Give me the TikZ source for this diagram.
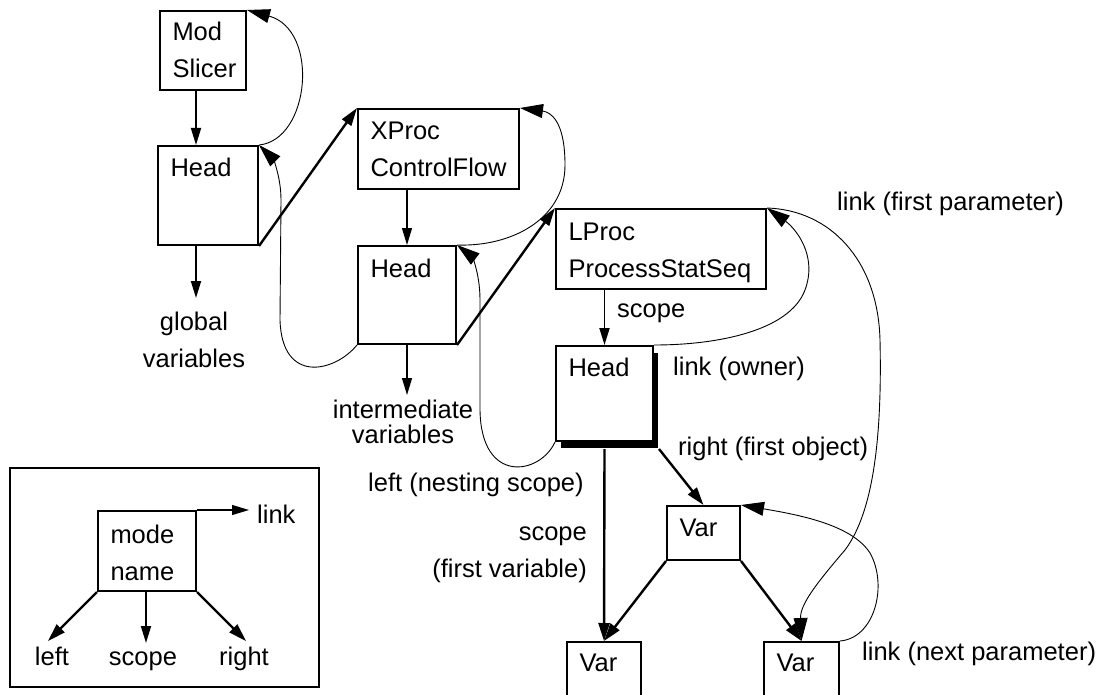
\documentclass[tikz,border=0pt]{standalone}
\usepackage{fontspec}
\setmainfont{Liberation Sans}
\usetikzlibrary{arrows.meta,shadows}
\newcommand\myf{\fontsize{25.5pt}{37pt}\selectfont}
\newcommand\twoln[3]{{\fontsize{25.5pt}{#1}\selectfont\begin{tabular}[t]{@{}#2@{}}#3\end{tabular}}}
\begin{document}
\begin{tikzpicture}[x=1pt,y=-1pt,
  box/.style={draw, line width=2pt, fill=white, inner xsep=12.5pt, inner ysep=0pt,
              anchor=north west, font=\myf, align=left},
  txt/.style={inner sep=0pt, font=\myf},
  arT/.style={line width=2.4pt, -{Triangle[length=18pt,width=11pt]}},
  arM/.style={line width=1.8pt, -{Triangle[length=17pt,width=10pt]}},
  arS/.style={line width=1.2pt, -{Triangle[length=17pt,width=10pt]}},
  crv/.style={line width=0.9pt, -{Triangle[length=23pt,width=14pt]}}]
\useasboundingbox (0,0) rectangle (1105,695);

% boxes
\node[box, text width=61pt, text height=30pt, text depth=49pt] (ms) at (159,10) {\twoln{37pt}{l}{Mod\\Slicer}};
\node[box, text width=75pt, text height=31pt, text depth=68pt] (h1) at (157,145) {Head};
\node[box, text width=136pt, text height=31pt, text depth=49pt] (xp) at (357,108) {\twoln{37pt}{l}{XProc\\ControlFlow}};
\node[box, text width=73pt, text height=31pt, text depth=67pt] (h2) at (357,245) {Head};
\node[box, text width=185pt, text height=31pt, text depth=49pt] (lp) at (555,208) {\twoln{37pt}{l}{LProc\\ProcessStatSeq}};
\node[box, text width=72pt, text height=30pt, text depth=65pt,
      drop shadow={shadow xshift=5pt, shadow yshift=-7pt, opacity=1, fill=black}] (h3) at (555,345) {Head};
\node[box, text width=48pt, text height=30pt, text depth=24pt] (vt) at (666,505) {Var};
\begin{scope}
\clip (0,0) rectangle (1105,695);
\node[box, text width=49pt, text height=29pt, text depth=51pt] (vbl) at (566,641) {Var};
\node[box, text width=50pt, text height=29pt, text depth=51pt] (vbr) at (763,641) {Var};
\end{scope}

% straight connectors
\coordinate (msb) at ([xshift=-7pt]ms.south);
\draw[arM] (msb) -- (msb |- h1.north);
\coordinate (h1b) at ([xshift=-12pt]h1.south);
\coordinate (gvt) at ([yshift=-52pt]h1b);
\draw[arM] (h1b) -- (gvt);
\draw[arT] (h1.south east) -- (xp.north west);
\draw[arS] (h2.north |- xp.south) -- (h2.north);
\coordinate (ivt) at ([yshift=-50pt]h2.south);
\draw[arS] (h2.south) -- (ivt);
\draw[arT] (h2.south east) -- (lp.north west);
\draw[arM] (h3.north |- lp.south) -- (h3.north);
\coordinate (h3s) at ([yshift=-7pt]h3.south);
\coordinate (h3se) at ([xshift=5pt,yshift=-7pt]h3.south east);
\draw[arT] (h3s) -- (vbl.north);
\draw[arT] (h3se) -- (vt.north);
\draw[arT] (vt.south west) -- (vbl.north);
\draw[arT] (vt.south east) -- (vbr.north);

% curved links
\draw[crv] (h1.north east) .. controls (310,140) and (320,30) .. (ms.north east);
\draw[crv] (h2.south west) .. controls (335,372) and (282,385) .. (280,320)
  -- (281,200) .. controls (281,175) and (272,158) .. (h1.north east);
\draw[crv] (h2.north east) .. controls (510,247) and (565,220) .. (565,165)
  .. controls (565,120) and (550,112) .. (xp.north east);
\draw[crv] (h3.south west) .. controls (540,475) and (481,485) .. (480,410)
  -- (480,300) .. controls (480,270) and (470,255) .. (h2.north east);
\draw[crv] (h3.north east) .. controls (720,345) and (790,330) .. (805,290)
  .. controls (818,255) and (795,228) .. (lp.north east);
\draw[crv] (lp.north east) .. controls (830,210) and (878,260) .. (880,340)
  .. controls (882,430) and (875,510) .. (845,550)
  .. controls (815,585) and (800,605) .. (vbr.north);
\draw[crv] (vbr.north east) .. controls (875,638) and (888,585) .. (870,553)
  .. controls (852,525) and (800,515) .. (vt.north east);

% labels
\node[txt, anchor=base] (gv) at (194,330) {\twoln{37pt}{c}{global\\variables}};
\node[txt, anchor=base] (iv) at (403,418) {\twoln{25pt}{c}{intermediate\\variables}};
\node[txt, anchor=base west] (l1) at (837,211) {link (first parameter)};
\node[txt, anchor=base west] (l2) at (617,317) {scope};
\node[txt, anchor=base west] (l3) at (673,375) {link (owner)};
\node[txt, anchor=base west] (l4) at (678,455) {right (first object)};
\node[txt, anchor=base west] (l5) at (368,491) {left (nesting scope)};
\node[txt, anchor=base east] (l6) at (587,540) {\twoln{37pt}{r}{scope\\(first variable)}};
\node[txt, anchor=base west] (l7) at (862,660) {link (next parameter)};

% legend
\node[draw, line width=1.6pt, minimum width=309pt, minimum height=219pt, inner sep=0pt,
      anchor=north west] (lg) at (9,467) {};
\node[box, text width=73pt, text height=32pt, text depth=48pt] (ln) at (97,510) {\twoln{37pt}{l}{mode\\name}};
\coordinate (lkx) at ([xshift=52pt]ln.north east);
\draw[arS] (ln.north east) -- (lkx);
\node[txt, anchor=base west] (lkt) at (257,523) {link};
\coordinate (lfx) at (48,641);
\coordinate (lsx) at ([xshift=-1pt,yshift=-51pt]ln.south);
\coordinate (lrx) at (246,641);
\draw[arT] (ln.south west) -- (lfx);
\draw[arM] ([xshift=-1pt]ln.south) -- (lsx);
\draw[arT] (ln.south east) -- (lrx);
\node[txt, anchor=base] (lft) at (52,665) {left};
\node[txt, anchor=base] (lst) at (143,665) {scope};
\node[txt, anchor=base] (lrt) at (244,665) {right};
\end{tikzpicture}
\end{document}
